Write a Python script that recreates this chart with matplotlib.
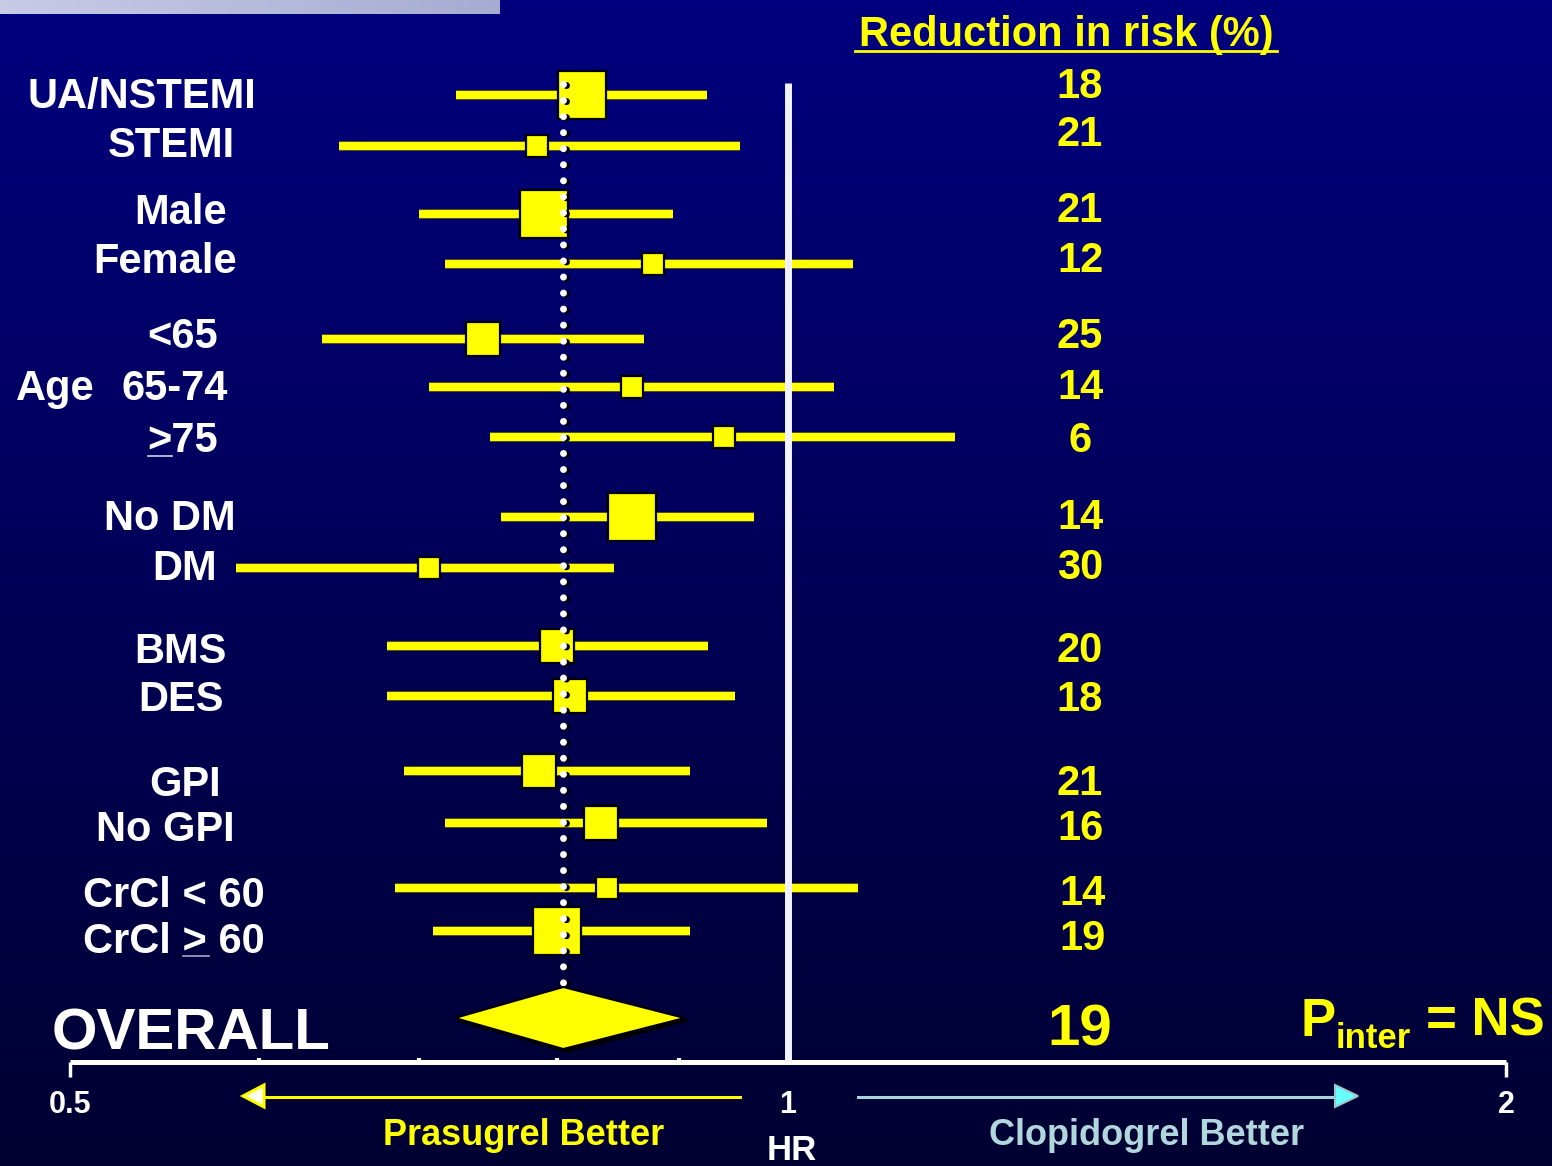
import numpy as np
import matplotlib
matplotlib.use("Agg")
import matplotlib.pyplot as plt
import matplotlib.patheffects as pe
from matplotlib.patches import Polygon
from matplotlib.ticker import NullFormatter
from matplotlib.transforms import offset_copy

plt.rcParams["font.family"] = ["Liberation Sans", "DejaVu Sans"]
plt.rcParams["font.weight"] = "bold"

# ---------------------------------------------------------------------------
# Datos
# ---------------------------------------------------------------------------
subgrupos = ["UA/NSTEMI", "STEMI", "Male", "Female", "<65", "65-74", ">75",
             "No DM", "DM", "BMS", "DES", "GPI", "No GPI",
             "CrCl < 60", "CrCl > 60"]
hr = [0.82, 0.785, 0.79, 0.878, 0.745, 0.86, 0.94, 0.86, 0.707,
      0.80, 0.81, 0.786, 0.835, 0.84, 0.80]
ic_inf = [0.726, 0.648, 0.70, 0.718, 0.638, 0.707, 0.75, 0.758, 0.587,
          0.679, 0.679, 0.69, 0.718, 0.684, 0.71]
ic_sup = [0.925, 0.955, 0.895, 1.065, 0.87, 1.045, 1.175, 0.968, 0.845,
          0.926, 0.95, 0.91, 0.98, 1.07, 0.91]
peso = [3, 1, 3, 1, 2, 1, 1, 3, 1, 2, 2, 2, 2, 1, 3]
reduccion = [18, 21, 21, 12, 25, 14, 6, 14, 30, 20, 18, 21, 16, 14, 19]

hr_global = 0.805
ic_global = (0.725, 0.905)
reduccion_global = 19

ticks_hr = [0.5, 1, 2]
ticks_menores = [0.6, 0.7, 0.8, 0.9]

# ---------------------------------------------------------------------------
# Disposición (píxeles de la figura)
# ---------------------------------------------------------------------------
fila_y = [95, 146, 214, 264, 339, 387, 437, 517, 568, 646, 696, 771, 823, 888, 931]
fila_global_y = 1018
etiqueta_cx = [142, 171, 181, 165, 183, 175, 183, 170, 185, 180, 181, 185, 165, 174, 174]
etiqueta_base = [108, 157, 224, 273, 348, 400, 452, 530, 580, 663, 711, 796, 841, 907, 953]
numero_base = [98, 146, 222, 272, 348, 399, 452, 529, 579, 662, 711, 795, 840, 905, 950]
numero_cx = [1080] * 13 + [1083, 1083]
lado_caja = {1: 15.5, 2: 25.0, 3: 34.0}

AMARILLO = "#FFFF00"
BLANCO = "#FFFFFF"
W, H = 1552, 1166

fig = plt.figure(figsize=(W / 100, H / 100), dpi=100)

# Fondo con degradado azul
fondo = fig.add_axes([0, 0, 1, 1])
fondo.axis("off")
t = np.linspace(0, 1, 256)[:, None]
azul = 126 - 76 * t
grad = np.dstack([np.zeros_like(azul), np.zeros_like(azul), azul / 255.0])
fondo.imshow(grad, extent=[0, W, H, 0], aspect="auto", zorder=0)

# barra lila arriba a la izquierda (resto de la diapositiva)
lila = np.linspace(0, 1, 64)[None, :]
barra = np.dstack([
    (200 - 34 * lila) / 255.0,
    (203 - 32 * lila) / 255.0,
    (230 - 20 * lila) / 255.0,
])
fondo.imshow(barra, extent=[0, 500, 14, 0], aspect="auto", zorder=1)
fondo.set_xlim(0, W)
fondo.set_ylim(H, 0)

# ---------------------------------------------------------------------------
# Eje principal (escala log, 0.5 - 2)
# ---------------------------------------------------------------------------
ax = fig.add_axes([70 / W, 0, 1436 / W, 1])
ax.patch.set_visible(False)
ax.set_xscale("log", base=2)
ax.set_xlim(0.5, 2)
ax.set_ylim(H, 0)

for lado in ["top", "left", "right"]:
    ax.spines[lado].set_visible(False)
ax.spines["bottom"].set_position(("data", 1062))
ax.spines["bottom"].set_color(BLANCO)
ax.spines["bottom"].set_linewidth(3.6)
ax.spines["bottom"].set_capstyle("butt")
ax.set_yticks([])

ax.set_xticks(ticks_hr, [str(v) for v in ticks_hr])
ax.set_xticks(ticks_menores, minor=True)
ax.xaxis.set_minor_formatter(NullFormatter())
ax.tick_params(axis="x", which="major", direction="out", length=11,
               width=2.5, color=BLANCO, labelcolor=BLANCO, labelsize=22, pad=9)
ax.tick_params(axis="x", which="minor", direction="in", length=3,
               width=3, color=BLANCO)
ax.xaxis.get_major_ticks()[1].tick1line.set_visible(False)
for et in ax.get_xticklabels():
    et.set_fontweight("bold")

# Líneas de intervalo de confianza
borde = [pe.Stroke(linewidth=7.0, foreground="#5a5a10"), pe.Normal()]
for y, lo, hi in zip(fila_y, ic_inf, ic_sup):
    ax.plot([lo, hi], [y, y], color=AMARILLO, lw=5.8, solid_capstyle="butt",
            path_effects=borde, zorder=3)

# Cajas
for y, v, p in zip(fila_y, hr, peso):
    ax.plot(v, y, marker="s", ms=lado_caja[p], mfc=AMARILLO, mec="black",
            mew=1.6, zorder=4)

# Línea vertical en HR = 1
ax.plot([1, 1], [83, 1062], color="#F2F2FF", lw=5, solid_capstyle="butt", zorder=5)

# Línea punteada en el HR global (con sombra negra)
sombra = offset_copy(ax.transData, fig=fig, x=3, y=-1, units="dots")
ax.plot([hr_global, hr_global], [84, 1062], color="black", lw=5,
        dashes=(0.01, 2.3), dash_capstyle="round", transform=sombra, zorder=5)
ax.plot([hr_global, hr_global], [84, 1062], color=BLANCO, lw=5,
        dashes=(0.01, 2.3), dash_capstyle="round", zorder=6)

# Rombo global
semi = 31
rombo = [(ic_global[0], fila_global_y), (hr_global, fila_global_y - semi),
         (ic_global[1], fila_global_y), (hr_global, fila_global_y + semi)]
sombra_rombo = offset_copy(ax.transData, fig=fig, x=3, y=-3, units="dots")
ax.add_patch(Polygon(rombo, closed=True, facecolor="black", edgecolor="black",
                     transform=sombra_rombo, zorder=7))
ax.add_patch(Polygon(rombo, closed=True, facecolor=AMARILLO, edgecolor="black",
                     lw=1.5, zorder=8))

# ---------------------------------------------------------------------------
# Textos
# ---------------------------------------------------------------------------
fondo.text(1066, 46, "Reduction in risk (%)", ha="center", va="baseline",
           fontsize=30, color=AMARILLO, zorder=10)
fondo.plot([855, 1277], [51, 51], color=AMARILLO, lw=2, zorder=10)

for nombre, cx, yb in zip(subgrupos, etiqueta_cx, etiqueta_base):
    fondo.text(cx, yb, nombre, ha="center", va="baseline", fontsize=30,
               color=BLANCO, zorder=10)
fondo.text(16, 400, "Age", ha="left", va="baseline", fontsize=30,
           color=BLANCO, zorder=10)
# subrayado del ">" (equivale a ≥)
fondo.plot([148, 172], [456, 456], color="#D0D0E8", lw=1.2, zorder=10)
fondo.plot([183, 209], [956, 956], color="#A8A8C8", lw=1.2, zorder=10)

for num, cx, yb in zip(reduccion, numero_cx, numero_base):
    fondo.text(cx, yb, str(num), ha="center", va="baseline", fontsize=30,
               color=AMARILLO, zorder=10)

fondo.text(52, 1050, "OVERALL", ha="left", va="baseline", fontsize=42,
           color=BLANCO, zorder=10)
fondo.text(1080, 1045, str(reduccion_global), ha="center", va="baseline",
           fontsize=42, color=AMARILLO, zorder=10)
fondo.text(1300, 1036, "P", ha="left", va="baseline", fontsize=38,
           color=AMARILLO, zorder=10)
fondo.text(1336, 1048, "inter", ha="left", va="baseline", fontsize=25,
           color=AMARILLO, zorder=10)
fondo.text(1545, 1036, "= NS", ha="right", va="baseline", fontsize=38,
           color=AMARILLO, zorder=10)

fondo.text(792, 1160, "HR", ha="center", va="baseline", fontsize=25,
           color=BLANCO, zorder=10)

# Flechas de dirección
fondo.plot([740, 263], [1097, 1097], color=AMARILLO, lw=2.2, zorder=10)
fondo.add_patch(Polygon([(243, 1096), (264, 1085), (264, 1107)], closed=True,
                        facecolor="#FFFFF4", edgecolor=AMARILLO, lw=2.2, zorder=11))
fondo.plot([858, 1336], [1097, 1097], color="#A8D4DC", lw=2.2, zorder=10)
fondo.add_patch(Polygon([(1358, 1096), (1335, 1085), (1335, 1107)], closed=True,
                        facecolor="#66FFFF", edgecolor="#99C8CC", lw=1.5, zorder=11))

fondo.text(524, 1145, "Prasugrel Better", ha="center", va="baseline",
           fontsize=26, color=AMARILLO, zorder=10)
fondo.text(1147, 1145, "Clopidogrel Better", ha="center", va="baseline",
           fontsize=26, color="#B0D8DC", zorder=10)

fig.savefig("out.png", dpi=100)
